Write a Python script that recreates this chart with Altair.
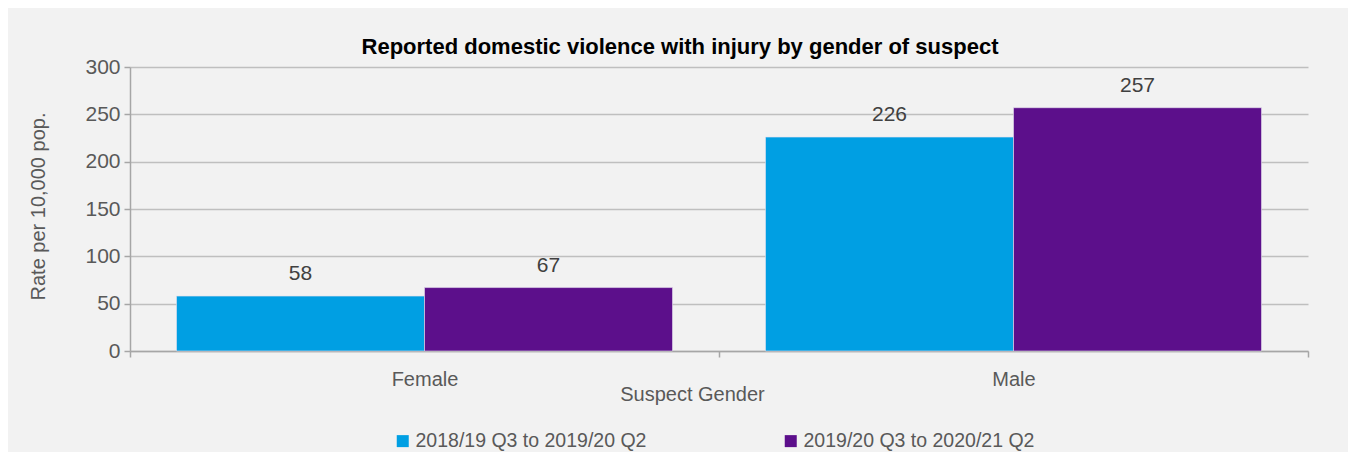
import altair as alt
import pandas as pd

genders = ["Female", "Female", "Male", "Male"]
periods = ["2018/19 Q3 to 2019/20 Q2", "2019/20 Q3 to 2020/21 Q2",
           "2018/19 Q3 to 2019/20 Q2", "2019/20 Q3 to 2020/21 Q2"]
rates = [58, 67, 226, 257]
period_order = ["2018/19 Q3 to 2019/20 Q2", "2019/20 Q3 to 2020/21 Q2"]
colors = ["#009FE3", "#5C0F8B"]
y_ticks = [0, 50, 100, 150, 200, 250, 300]

df = pd.DataFrame({"gender": genders, "period": periods, "rate": rates})

FONT = "Liberation Sans, Arial"

base = alt.Chart(df).encode(
    x=alt.X("gender:N",
            scale=alt.Scale(paddingInner=0, paddingOuter=0),
            axis=alt.Axis(title="Suspect Gender", labelAngle=0, tickBand="extent",
                          labelFontSize=20, labelColor="#595959", labelPadding=12,
                          titleFontSize=20, titleColor="#595959", titleFontWeight="normal",
                          titleX=562, titleY=33, titleBaseline="top",
                          domainColor="#a6a6a6", domainWidth=1.5,
                          tickColor="#a6a6a6", tickSize=6, tickWidth=1.5,
                          labelFont=FONT, titleFont=FONT)),
    xOffset=alt.XOffset("period:N", sort=period_order,
                        scale=alt.Scale(paddingInner=0, paddingOuter=0.1875)),
)

bars = base.mark_bar(stroke="#e6e0ee", strokeWidth=0.6).encode(
    y=alt.Y("rate:Q", scale=alt.Scale(domain=[0, 300]),
            axis=alt.Axis(title="Rate per 10,000 pop.", values=y_ticks,
                          labelFontSize=21, labelColor="#595959", labelPadding=4,
                          titleFontSize=20, titleColor="#595959", titleFontWeight="normal",
                          titleX=-82, titleY=139,
                          gridColor="#bfbfbf", gridWidth=1.5,
                          domainColor="#a6a6a6", domainWidth=1.5,
                          tickColor="#a6a6a6", tickSize=6, tickWidth=1.5,
                          labelFont=FONT, titleFont=FONT)),
    color=alt.Color("period:N", sort=period_order,
                    scale=alt.Scale(domain=period_order, range=colors),
                    legend=alt.Legend(title=None, orient="none", direction="horizontal",
                                      legendX=263, legendY=364,
                                      symbolType="square", symbolSize=144,
                                      symbolStrokeWidth=0, symbolOpacity=1,
                                      labelFontSize=19.5, labelColor="#595959",
                                      labelFont=FONT, labelLimit=400,
                                      columnPadding=134, labelOffset=3)),
)

labels = base.mark_text(baseline="alphabetic", dy=-16, fontSize=21,
                        color="#404040", font=FONT).encode(
    y=alt.Y("rate:Q"),
    text=alt.Text("rate:Q"),
)

chart = (bars + labels).properties(
    width=1178, height=284,
    background="#f2f2f2",
    autosize=alt.AutoSizeParams(type="none"),
    padding={"left": 122, "top": 59, "right": 40, "bottom": 101},
    title=alt.TitleParams("Reported domestic violence with injury by gender of suspect",
                          fontSize=22, fontWeight="bold", color="#000000", font=FONT,
                          anchor="middle", dx=-39, dy=3, offset=0),
).configure_view(stroke=None)

chart.save("out.html", embed_options={"renderer": "svg", "actions": False})
